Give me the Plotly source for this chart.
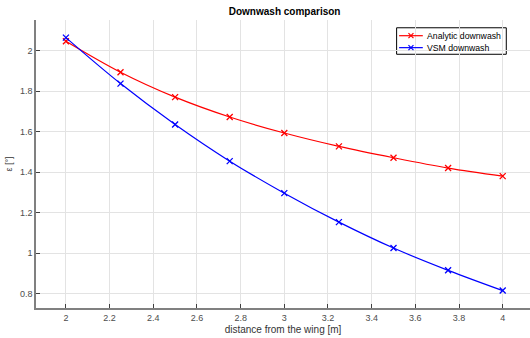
import plotly.graph_objects as go

distance = [2.0, 2.25, 2.5, 2.75, 3.0, 3.25, 3.5, 3.75, 4.0]
analytic = [2.046, 1.893, 1.770, 1.672, 1.593, 1.527, 1.471, 1.420, 1.380]
vsm = [2.064, 1.837, 1.635, 1.454, 1.296, 1.153, 1.025, 0.915, 0.815]
series_names = ["Analytic downwash", "VSM downwash"]
series_colors = ["#ff0000", "#0000ff"]
xticks = [2, 2.2, 2.4, 2.6, 2.8, 3, 3.2, 3.4, 3.6, 3.8, 4]
yticks = [0.8, 1, 1.2, 1.4, 1.6, 1.8, 2]

FONT = "Liberation Sans, Arial"
fig = go.Figure()
for ys, name, col in zip([analytic, vsm], series_names, series_colors):
    fig.add_trace(go.Scatter(x=distance, y=ys, mode="lines+markers", name=name, showlegend=False,
                             line=dict(color=col, width=1.2, shape="spline"),
                             marker=dict(symbol="x-thin", size=6, line=dict(color=col, width=1.3))))

# compact MATLAB-style legend drawn in paper coordinates on an overlay axis
box = dict(x0=0.730, x1=0.952, y0=0.881, y1=0.973)
rows_y = [0.9455, 0.904]
line_x0, line_x1, text_x = 0.735, 0.783, 0.787
fig.add_shape(type="rect", xref="paper", yref="paper", **box,
              line=dict(color="#000000", width=1), fillcolor="white", layer="between")
for ry, name, col in zip(rows_y, series_names, series_colors):
    fig.add_trace(go.Scatter(x=[line_x0, (line_x0 + line_x1) / 2, line_x1], y=[ry, ry, ry],
                             xaxis="x2", yaxis="y2", mode="lines", showlegend=False, hoverinfo="skip",
                             line=dict(color=col, width=1.2)))
    fig.add_trace(go.Scatter(x=[(line_x0 + line_x1) / 2], y=[ry], xaxis="x2", yaxis="y2",
                             mode="markers", showlegend=False, hoverinfo="skip",
                             marker=dict(symbol="x-thin", size=5, line=dict(color=col, width=1.2))))
    fig.add_annotation(x=text_x, y=ry, xref="paper", yref="paper", text=name, showarrow=False,
                       xanchor="left", yanchor="middle", font=dict(family=FONT, size=8.7, color="#000000"))

axis_common = dict(showgrid=True, gridcolor="#e3e3e3", gridwidth=1, showline=True, linecolor="#808080",
                   linewidth=1.5, ticks="inside", ticklen=4, tickcolor="#404040", zeroline=False,
                   automargin=False,
                   tickfont=dict(family=FONT, size=9, color="#4d4d4d"))

fig.update_layout(
    width=530, height=338,
    margin=dict(l=36, r=0, t=20, b=30, autoexpand=False),
    plot_bgcolor="white", paper_bgcolor="white",
    title=dict(text="<b>Downwash comparison</b>", x=0.537, xanchor="center", y=0.975, yanchor="top",
               font=dict(family=FONT, size=10, color="#000000")),
    xaxis=dict(range=[1.863, 4.125], tickvals=xticks, ticktext=[str(t) for t in xticks],
               title=dict(text="distance from the wing [m]", standoff=4,
                          font=dict(family=FONT, size=10, color="#333333")),
               **axis_common),
    yaxis=dict(range=[0.729, 2.151], tickvals=yticks, ticktext=[str(t) for t in yticks],
               title=dict(text="ε [°]", standoff=6,
                          font=dict(family=FONT, size=9, color="#333333")),
               **axis_common),
    xaxis2=dict(overlaying="x", range=[0, 1], visible=False, automargin=False),
    yaxis2=dict(overlaying="y", range=[0, 1], visible=False, automargin=False),
    showlegend=False,
)
fig.write_html("out.html")
